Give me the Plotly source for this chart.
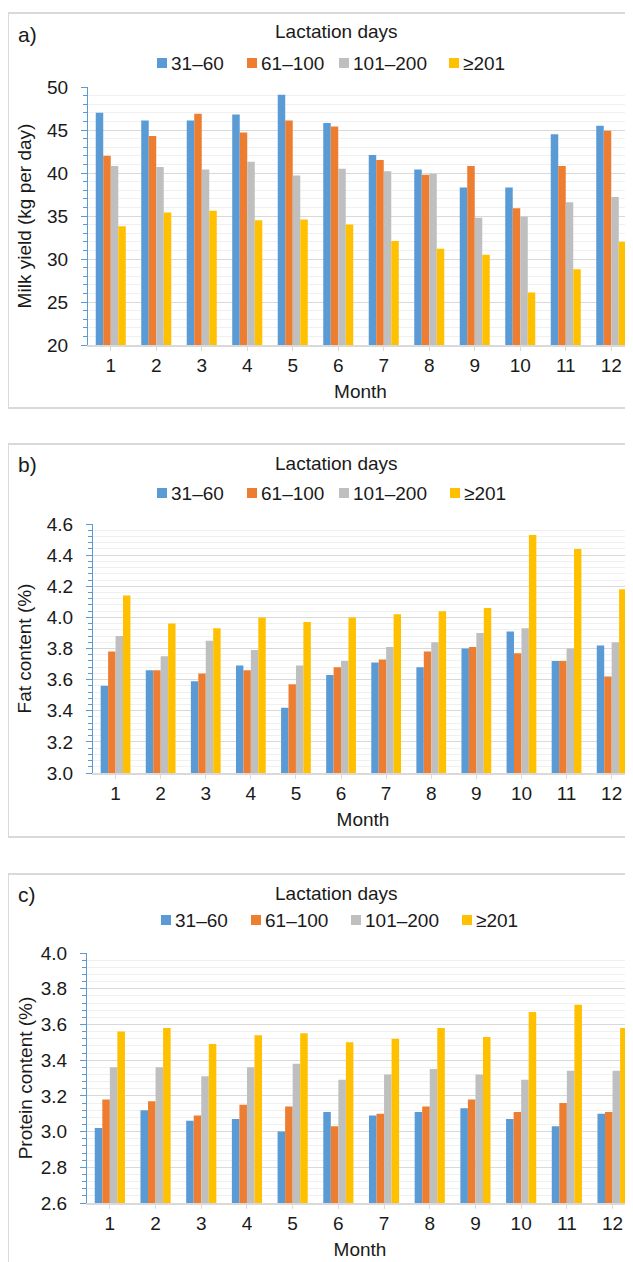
import plotly.graph_objects as go

# page is rendered with an 8 px body margin, so the figure is 8 px smaller
OX, OY = 8, 8
W, H = 633 - OX, 1262 - OY

months = list(range(1, 13))
series_names = ["31–60", "61–100", "101–200", "≥201"]
colors = ["#5B9BD5", "#ED7D31", "#BFBFBF", "#FFC000"]

# a) Milk yield (kg per day)
milk_31_60 = [47.0, 46.1, 46.1, 46.8, 49.1, 45.8, 42.1, 40.4, 38.3, 38.3, 44.5, 45.5]
milk_61_100 = [42.0, 44.3, 46.9, 44.7, 46.1, 45.4, 41.5, 39.8, 40.8, 35.9, 40.8, 44.9]
milk_101_200 = [40.8, 40.7, 40.4, 41.3, 39.7, 40.5, 40.2, 39.9, 34.8, 34.9, 36.6, 37.2]
milk_201 = [33.8, 35.4, 35.6, 34.5, 34.6, 34.0, 32.1, 31.2, 30.5, 26.1, 28.8, 32.0]

# b) Fat content (%)
fat_31_60 = [3.56, 3.66, 3.59, 3.69, 3.42, 3.63, 3.71, 3.68, 3.80, 3.91, 3.72, 3.82]
fat_61_100 = [3.78, 3.66, 3.64, 3.66, 3.57, 3.68, 3.73, 3.78, 3.81, 3.77, 3.72, 3.62]
fat_101_200 = [3.88, 3.75, 3.85, 3.79, 3.69, 3.72, 3.81, 3.84, 3.90, 3.93, 3.80, 3.84]
fat_201 = [4.14, 3.96, 3.93, 4.00, 3.97, 4.00, 4.02, 4.04, 4.06, 4.53, 4.44, 4.18]

# c) Protein content (%)
prot_31_60 = [3.02, 3.12, 3.06, 3.07, 3.00, 3.11, 3.09, 3.11, 3.13, 3.07, 3.03, 3.10]
prot_61_100 = [3.18, 3.17, 3.09, 3.15, 3.14, 3.03, 3.10, 3.14, 3.18, 3.11, 3.16, 3.11]
prot_101_200 = [3.36, 3.36, 3.31, 3.36, 3.38, 3.29, 3.32, 3.35, 3.32, 3.29, 3.34, 3.34]
prot_201 = [3.56, 3.58, 3.49, 3.54, 3.55, 3.50, 3.52, 3.58, 3.53, 3.67, 3.71, 3.58]

panels = [
    dict(label="a)", ytitle="Milk yield (kg per day)",
         data=[milk_31_60, milk_61_100, milk_101_200, milk_201],
         yrange=[20, 50], dtick=5, minor=1, fmt="d",
         top=87, bottom=345, left=88, spacing=45.5, ystand=10,
         btop=13, bbottom=408, label_y=35, title_y=32, legend_y=63,
         legend_x=[157, 247, 339, 449]),
    dict(label="b)", ytitle="Fat content (%)",
         data=[fat_31_60, fat_61_100, fat_101_200, fat_201],
         yrange=[3.0, 4.6], dtick=0.2, minor=0.04, fmt=".1f",
         top=524, bottom=773, left=93, spacing=45.1, ystand=10,
         btop=444, bbottom=837, label_y=464, title_y=463, legend_y=493,
         legend_x=[157, 247, 339, 450]),
    dict(label="c)", ytitle="Protein content (%)",
         data=[prot_31_60, prot_61_100, prot_101_200, prot_201],
         yrange=[2.6, 4.0], dtick=0.2, minor=0.04, fmt=".1f",
         top=953, bottom=1203, left=87, spacing=45.7, ystand=3,
         btop=874, bbottom=1300, label_y=894, title_y=893, legend_y=920,
         legend_x=[161, 251, 351, 462]),
]


def fx(x):
    return (x - OX) / W


def fy(y):
    return 1 - (y - OY) / H


FONT = "Liberation Sans, Arial, sans-serif"
TXT = "#1a1a1a"
FS = 19

fig = go.Figure()
layout = dict(
    width=W, height=H,
    margin=dict(l=0, r=0, t=0, b=0, pad=0, autoexpand=False),
    paper_bgcolor="white", plot_bgcolor="white",
    barmode="group", bargap=0.34, bargroupgap=0.0,
    font=dict(family=FONT, size=FS, color=TXT),
    showlegend=False,
)
shapes = []
annotations = []

for i, p in enumerate(panels):
    k = "" if i == 0 else str(i + 1)
    xa, ya = "x" + k, "y" + k
    for name, vals, col in zip(series_names, p["data"], colors):
        fig.add_trace(go.Bar(
            x=months, y=vals, name=name, xaxis=xa, yaxis=ya,
            marker=dict(color=col, line=dict(width=0)),
        ))
    xend = 0.5 + (633 - p["left"]) / p["spacing"]
    layout["xaxis" + k] = dict(
        domain=[fx(p["left"]), 1.0], anchor=ya,
        range=[0.5, xend], tickmode="array", tickvals=months,
        ticktext=[str(m) for m in months],
        showline=True, linecolor="#D9D9D9", linewidth=1.5,
        ticks="outside", ticklen=4, tickcolor="#D9D9D9", tickwidth=1,
        showgrid=False, zeroline=False, ticklabelstandoff=-2,
        tickfont=dict(size=FS, color=TXT),
        title=dict(text="Month", standoff=10, font=dict(size=FS, color=TXT)),
        fixedrange=True, automargin=False,
    )
    layout["yaxis" + k] = dict(
        domain=[fy(p["bottom"]), fy(p["top"])], anchor=xa,
        range=p["yrange"], dtick=p["dtick"], tick0=p["yrange"][0],
        tickformat=p["fmt"],
        showline=True, linecolor="#5B9BD5", linewidth=1.2,
        ticks="outside", ticklen=6, tickcolor="#5B9BD5", tickwidth=1,
        showgrid=True, gridcolor="#D9D9D9", gridwidth=1,
        minor=dict(dtick=p["minor"], tick0=p["yrange"][0], ticks="outside",
                   ticklen=4, tickcolor="#5B9BD5", showgrid=True,
                   gridcolor="#F0F0F0", gridwidth=1),
        zeroline=False, ticklabelstandoff=9,
        tickfont=dict(size=FS, color=TXT),
        title=dict(text=p["ytitle"], standoff=p["ystand"], font=dict(size=FS, color=TXT)),
        fixedrange=True, automargin=False,
    )
    # panel border
    shapes.append(dict(
        type="rect", xref="paper", yref="paper",
        x0=fx(8), x1=1.2, y0=fy(p["bbottom"]), y1=fy(p["btop"]),
        line=dict(color="#D9D9D9", width=2), fillcolor="rgba(0,0,0,0)", layer="below",
    ))
    annotations.append(dict(
        text=p["label"], xref="paper", yref="paper",
        x=fx(16), y=fy(p["label_y"]), xanchor="left", yanchor="middle",
        showarrow=False, font=dict(size=21, color=TXT),
    ))
    annotations.append(dict(
        text="Lactation days", xref="paper", yref="paper",
        x=fx(336), y=fy(p["title_y"]), xanchor="center", yanchor="middle",
        showarrow=False, font=dict(size=FS, color=TXT),
    ))
    # legend (square swatch + label per series)
    ly = fy(p["legend_y"])
    for name, col, lx in zip(series_names, colors, p["legend_x"]):
        shapes.append(dict(
            type="rect", xref="paper", yref="paper",
            x0=fx(lx), x1=fx(lx + 10),
            y0=ly - 5 / H, y1=ly + 5 / H,
            line=dict(width=0), fillcolor=col,
        ))
        annotations.append(dict(
            text=name, xref="paper", yref="paper",
            x=fx(lx + 12), y=ly, xanchor="left", yanchor="middle",
            showarrow=False, font=dict(size=FS, color=TXT),
        ))

layout["shapes"] = shapes
layout["annotations"] = annotations
fig.update_layout(**layout)

fig.write_html("out.html")
